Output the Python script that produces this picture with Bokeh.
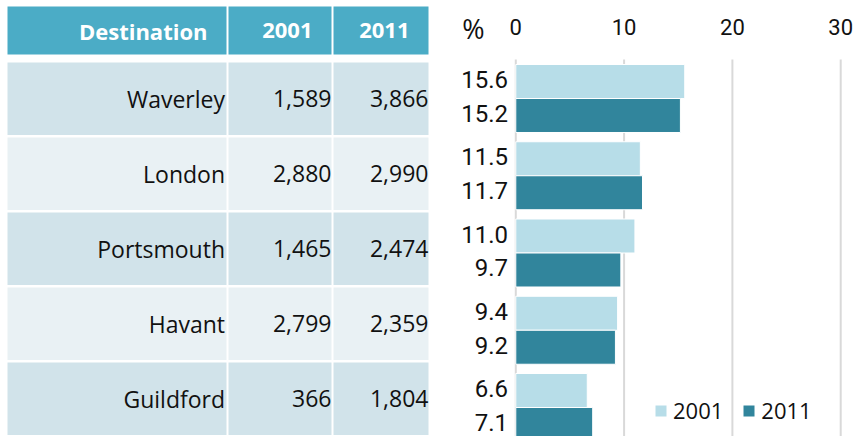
from bokeh.plotting import figure
from bokeh.models import Range1d, ColumnDataSource, Legend, LegendItem
from bokeh.layouts import row
from bokeh.embed import file_html
from bokeh.resources import INLINE

# ---- data ----
destinations = ["Waverley", "London", "Portsmouth", "Havant", "Guildford"]
count_2001 = [1589, 2880, 1465, 2799, 366]
count_2011 = [3866, 2990, 2474, 2359, 1804]
pct_2001 = [15.6, 11.5, 11.0, 9.4, 6.6]
pct_2011 = [15.2, 11.7, 9.7, 9.2, 7.1]
years = ["2001", "2011"]
header = ["Destination", "2001", "2011"]
x_ticks = [0, 10, 20, 30]
unit_label = "%"

# ---- styles ----
HEADER_BG = "#4BACC6"
ROW_BG = ["#D1E3EA", "#E9F1F4"]
C2001 = "#B7DDE8"
C2011 = "#31859C"
TABLE_FONT = "Open Sans"
NUM_FONT = "Roboto"
TEXT_COLOR = "#111111"

# ---------------- table ----------------
TW, H = 445, 436
t = figure(width=TW, height=H, x_range=Range1d(0, TW), y_range=Range1d(H, 0),
           x_axis_location=None, y_axis_location=None,
           output_backend="svg", toolbar_location=None, min_border=0,
           frame_align=False)
t.grid.visible = False
t.outline_line_color = None

col_left = [7, 228, 333]
col_right = [226, 331, 428]
head_top, head_bot = 6, 54
row_top0, row_pitch, row_h = 62, 75, 72.5

t.quad(left=col_left, right=col_right, top=[head_top] * 3, bottom=[head_bot] * 3,
       fill_color=HEADER_BG, line_color=None)
t.text(x=[c - 19 for c in col_right], y=[(head_top + head_bot) / 2] * 3, text=header,
       text_align="right", text_baseline="middle", text_color="white",
       text_font={"value": TABLE_FONT}, text_font_style="bold", text_font_size="22px")

ql, qr, qt, qb, qc = [], [], [], [], []
tx, ty, tt = [], [], []
for i, name in enumerate(destinations):
    top = row_top0 + row_pitch * i
    bot = top + row_h
    for j in range(3):
        ql.append(col_left[j]); qr.append(col_right[j])
        qt.append(top); qb.append(bot); qc.append(ROW_BG[i % 2])
    cy = (top + bot) / 2
    vals = [name, f"{count_2001[i]:,}", f"{count_2011[i]:,}"]
    xs = [224.5, 331, 428]
    for j in range(3):
        tx.append(xs[j]); ty.append(cy); tt.append(vals[j])

t.quad(left=ql, right=qr, top=qt, bottom=qb, fill_color=qc, line_color=None)
t.text(x=tx, y=ty, text=tt, text_align="right", text_baseline="middle",
       text_color=TEXT_COLOR, text_font={"value": TABLE_FONT}, text_font_size="23px")

# ---------------- bar chart ----------------
CW = 857 - TW
PITCH = 77.25      # px per group
Y0 = 98.0          # px of first group centre
Y_TOP = -0.505     # top of bar area (group units)
c = figure(width=CW, height=H,
           x_range=Range1d(-6.49, 31.55),
           y_range=Range1d((H - Y0) / PITCH, -Y0 / PITCH),
           x_axis_location=None, y_axis_location=None,
           output_backend="svg", toolbar_location=None,
           min_border=0, frame_align=False)
c.outline_line_color = None
c.grid.visible = False

y_bottom = (H - Y0) / PITCH
# vertical grid lines at the tick values
c.segment(x0=x_ticks, x1=x_ticks, y0=[Y_TOP] * len(x_ticks), y1=[y_bottom] * len(x_ticks),
          line_color="#D9D9D9", line_width=2)
# tick labels along the top
tick_y = (26 - Y0) / PITCH
c.text(x=x_ticks, y=[tick_y] * len(x_ticks), text=[str(v) for v in x_ticks],
       text_align="center", text_baseline="middle", text_color=TEXT_COLOR,
       text_font={"value": NUM_FONT}, text_font_size="22px")
c.text(x=[-3.91], y=[(27.5 - Y0) / PITCH], text=[unit_label],
       text_align="center", text_baseline="middle", text_color=TEXT_COLOR,
       text_font={"value": TABLE_FONT}, text_font_size="27px")

off = 0.22
idx = list(range(len(destinations)))
src = ColumnDataSource(dict(
    y1=[i - off for i in idx], y2=[i + off for i in idx],
    v1=pct_2001, v2=pct_2011,
    l1=[f"{v:.1f}" for v in pct_2001], l2=[f"{v:.1f}" for v in pct_2011],
))
r1 = c.hbar(y="y1", left=0, right="v1", height=2 * off, source=src,
            fill_color=C2001, line_color="white", line_width=1)
r2 = c.hbar(y="y2", left=0, right="v2", height=2 * off, source=src,
            fill_color=C2011, line_color="white", line_width=1)
for ycol, lcol in (("y1", "l1"), ("y2", "l2")):
    c.text(x=-0.72, y=ycol, text=lcol, source=src, text_align="right",
           text_baseline="middle", text_color=TEXT_COLOR, y_offset=-2,
           text_font={"value": NUM_FONT}, text_font_size="24px")

legend = Legend(items=[LegendItem(label=years[0], renderers=[r1]),
                       LegendItem(label=years[1], renderers=[r2])],
                orientation="horizontal", location=(208, 11),
                glyph_width=15, glyph_height=15, label_standoff=5, spacing=18,
                padding=0, margin=0,
                label_text_font=TABLE_FONT, label_text_font_size="22px",
                label_text_color=TEXT_COLOR,
                background_fill_alpha=0, border_line_alpha=0)
c.add_layout(legend)

layout = row(t, c)
open("out.html", "w").write(file_html(layout, INLINE))
